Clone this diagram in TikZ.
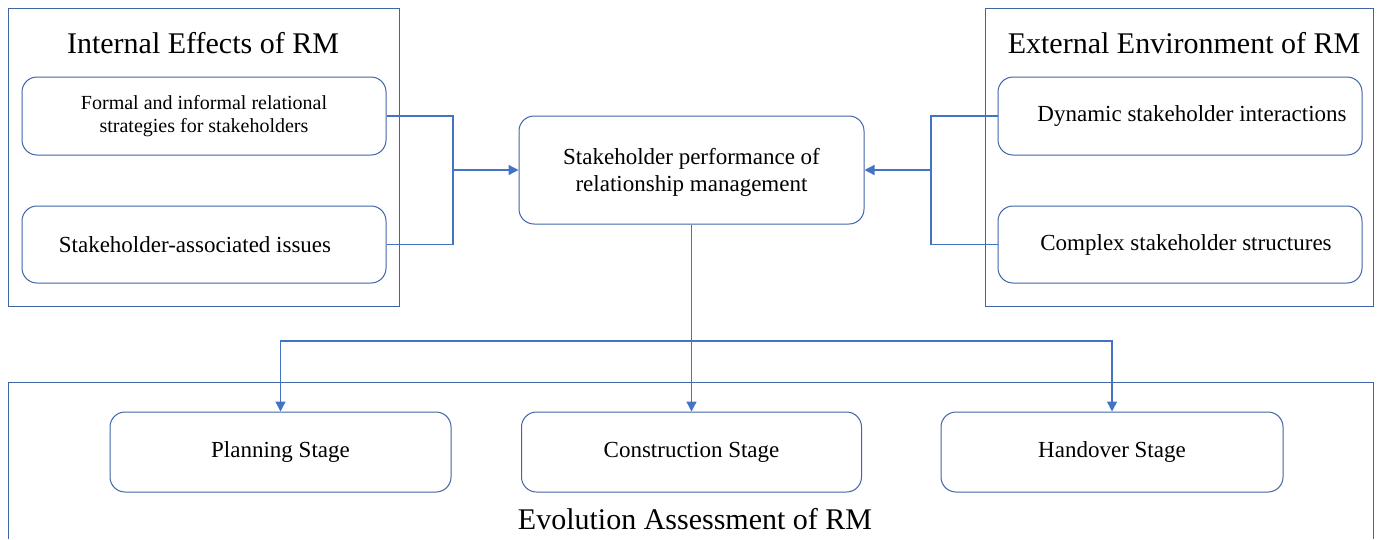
\documentclass[tikz,border=0pt]{standalone}
\usepackage{fontspec}
\setmainfont{Liberation Serif}
\usetikzlibrary{arrows.meta}

\definecolor{rmline}{RGB}{68,114,196}
\definecolor{rmedge}{RGB}{64,100,168}

\tikzset{
    outer/.style={draw=rmedge, line width=1pt},
    rbox/.style={draw=rmedge, line width=1pt, rounded corners=15pt, align=center, inner sep=0pt,
        font=\fontsize{23}{27}\selectfont},
    title/.style={inner sep=0pt, font=\fontsize{30}{34}\selectfont},
    conn/.style={draw=rmline, line width=1.3pt},
    arr/.style={conn, -{Triangle[length=10pt,width=10pt]}}
}

\begin{document}
\begin{tikzpicture}[x=1pt, y=-1pt]
        \useasboundingbox (0,0) rectangle (1381,539);
        \begin{scope}
            \node[outer, minimum width=391pt, minimum height=298pt] (inbox) at (203.5,157) {};
            \node[title] (intitle) at (203,43) {Internal Effects of RM};
            \node[rbox, minimum width=364pt, minimum height=78pt, font=\fontsize{20}{23}\selectfont] (strat) at (204,116) {Formal and informal relational\\strategies for stakeholders};
            \node[rbox, minimum width=364pt, minimum height=77pt] (issues) at (204,244.5) {\hspace{-18pt}Stakeholder-associated issues};
        \end{scope}
        \begin{scope}
            \node[outer, minimum width=388pt, minimum height=298pt] (exbox) at (1179,157) {};
            \node[title] (extitle) at (1184,43) {External Environment of RM};
            \node[rbox, minimum width=364pt, minimum height=78pt] (dyn) at (1180,116) {\hspace{24pt}\raisebox{-3pt}{Dynamic stakeholder interactions}};
            \node[rbox, minimum width=364pt, minimum height=77pt] (cplx) at (1180,244.5) {\hspace{12pt}Complex stakeholder structures};
        \end{scope}
        \node[rbox, minimum width=345pt, minimum height=108pt] (perf) at (691.5,170) {\rule{0pt}{20pt}Stakeholder performance of\\relationship management};
        \begin{scope}
            \draw[outer] (8,539) |- (1373,382) -- (1373,539);
            \node[title] (evtitle) at (695,519) {Evolution Assessment of RM};
            \node[rbox, minimum width=341pt, minimum height=80pt] (plan) at (280.5,452) {\raisebox{-2pt}{Planning Stage}};
            \node[rbox, minimum width=340pt, minimum height=80pt] (cons) at (691.5,452) {\raisebox{-2pt}{Construction Stage}};
            \node[rbox, minimum width=342pt, minimum height=80pt] (hand) at (1112,452) {\raisebox{-2pt}{Handover Stage}};
        \end{scope}
        \coordinate (jl) at (453,170);
        \coordinate (jr) at (931,170);
        \coordinate (jd) at (perf.south |- 0,341);
        \draw[conn] (strat.east) -| (jl);
        \draw[conn] (issues.east) -| (jl);
        \draw[arr] (jl) -- (perf.west);
        \draw[conn] (dyn.west) -| (jr);
        \draw[conn] (cplx.west) -| (jr);
        \draw[arr] (jr) -- (perf.east);
        \draw[conn] (perf.south) -- (jd);
        \draw[arr] (jd) -| (plan.north);
        \draw[arr] (jd) -- (cons.north);
        \draw[arr] (jd) -| (hand.north);
    \end{tikzpicture}
\end{document}
